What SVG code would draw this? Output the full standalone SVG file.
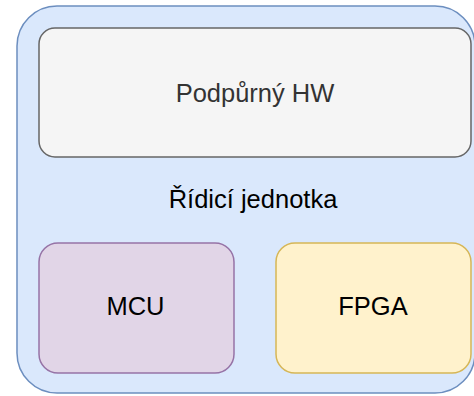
<svg xmlns="http://www.w3.org/2000/svg" width="474" height="396" viewBox="0 0 474 396">
  <style>
    text { font-family: "Liberation Sans", Arial, sans-serif; font-size: 25.5px; text-anchor: middle; }
    .box { stroke-width: 1.5; }
  </style>
  <rect width="474" height="396" fill="#ffffff"/>
  <g id="ridici-jednotka">
    <rect class="box" x="17" y="6" width="458" height="387" rx="40" ry="40" fill="#dae8fc" stroke="#6c8ebf"/>
    <text x="253" y="207.5" fill="#000000">Řídicí jednotka</text>
  </g>
  <g id="podpurny-hw">
    <rect class="box" x="39" y="28" width="432" height="129" rx="16" ry="16" fill="#f5f5f5" stroke="#666666"/>
    <text x="255" y="102" fill="#333333">Podpůrný HW</text>
  </g>
  <g id="mcu">
    <rect class="box" x="39" y="243" width="195" height="130" rx="19" ry="19" fill="#e1d5e7" stroke="#9673a6"/>
    <text x="135.5" y="315" fill="#000000">MCU</text>
  </g>
  <g id="fpga">
    <rect class="box" x="276" y="243" width="195" height="130" rx="19" ry="19" fill="#fff2cc" stroke="#d6b656"/>
    <text x="373" y="315" fill="#000000">FPGA</text>
  </g>
  <g id="connectors"/>
</svg>
